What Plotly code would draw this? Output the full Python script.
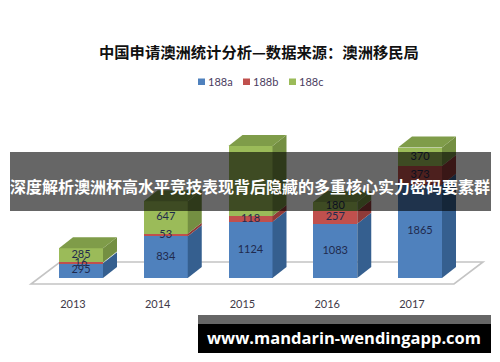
import plotly.graph_objects as go

years = ["2013", "2014", "2015", "2016", "2017"]
series_a = [295, 834, 1124, 1083, 1865]
series_b = [16, 53, 118, 257, 373]
series_c = [285, 647, 1398, 180, 370]
labels_a = ["295", "834", "1124", "1083", "1865"]
labels_b = ["16", "53", "118", "257", "373"]
labels_c = ["285", "647", "", "180", "370"]  # the 2015 label cannot be seen in the reference
names = ["188a", "188b", "188c"]
front = ["#4f81bd", "#c0504d", "#9bbb59"]
side = ["#355f8f", "#8f3a38", "#748f42"]
top = "#7f9c49"
title = "中国申请澳洲统计分析—数据来源：澳洲移民局"
banner = "深度解析澳洲杯高水平竞技表现背后隐藏的多重核心实力密码要素群"
site = "www.mandarin-wendingapp.com"

W, H = 500, 362
PLOT_H = 296
SP = 84.75
X0 = 81
UNIT = 20.0  # data units per px
BASE_PX = 278
DX = 14 / SP
DY = 11 * UNIT
BW = 44 / SP
xs = list(range(len(years)))
all_series = [series_a, series_b, series_c]
all_labels = [labels_a, labels_b, labels_c]


def px(x):
    return x / W


def py(y):
    return (PLOT_H - y) / PLOT_H


def dx(x):
    return (x - X0) / SP


def dy(y):
    return (BASE_PX - y) * UNIT


fig = go.Figure()
for vals, nm, col in zip(all_series, names, front):
    fig.add_trace(go.Bar(
        x=xs, y=vals, name=nm, width=BW, marker=dict(color=col, line=dict(width=0)),
        showlegend=False,
    ))

for i in xs:
    base = 0
    xr = i + BW / 2
    xl = i - BW / 2
    for s, vals in enumerate(all_series):
        t = base + vals[i]
        fig.add_trace(go.Scatter(
            x=[xr, xr + DX, xr + DX, xr, xr], y=[base, base + DY, t + DY, t, base],
            mode="lines", fill="toself", fillcolor=side[s], line=dict(width=0, color=side[s]),
            hoverinfo="skip", showlegend=False))
        base = t
    fig.add_trace(go.Scatter(
        x=[xl, xr, xr + DX, xl + DX, xl], y=[base, base, base + DY, base + DY, base],
        mode="lines", fill="toself", fillcolor=top, line=dict(width=0, color=top),
        hoverinfo="skip", showlegend=False))

# data labels sit above every bar, so thin segments do not hide them
bases = [0] * len(xs)
for vals, labs in zip(all_series, all_labels):
    fig.add_trace(go.Scatter(
        x=xs, y=[b + v / 2 for b, v in zip(bases, vals)], mode="text",
        text=labs, textposition="middle center",
        textfont=dict(family="Lato, sans-serif", size=11, color="#1f2a4d"),
        hoverinfo="skip", showlegend=False))
    bases = [b + v for b, v in zip(bases, vals)]

shapes = []
shapes.append(dict(
    type="path", xref="x", yref="y", layer="below",
    path=f"M {dx(31)} {dy(284)} L {dx(454)} {dy(284)} L {dx(483)} {dy(262)} L {dx(60)} {dy(262)} Z",
    line=dict(color="#c4c4c4", width=1.6), fillcolor="rgba(255,255,255,0)"))

annotations = [dict(
    text=f"<b>{title}</b>", x=px(259), y=py(51), xref="paper", yref="paper", showarrow=False,
    xanchor="center", yanchor="middle",
    font=dict(family="Noto Sans CJK SC", size=15.3, color="#111111"))]

leg_x = [198, 243, 289]
for nm, col, lx in zip(names, front, leg_x):
    shapes.append(dict(type="rect", xref="paper", yref="paper", x0=px(lx), x1=px(lx + 7),
                       y0=py(85), y1=py(78.5), fillcolor=col, line=dict(width=0)))
    annotations.append(dict(
        text=nm, x=px(lx + 10), y=py(82), xref="paper", yref="paper", xanchor="left", yanchor="middle",
        showarrow=False, xshift=-2, font=dict(family="Lato, sans-serif", size=11, color="#4a3c60")))

shapes += [
    dict(type="rect", xref="paper", yref="paper", x0=px(10), x1=px(491), y0=py(211), y1=py(152),
         fillcolor="rgba(0,0,0,0.6)", line=dict(width=0), layer="above"),
    dict(type="rect", xref="paper", yref="paper", x0=px(198), x1=px(491), y0=py(324), y1=py(315),
         fillcolor="rgba(0,0,0,0.6)", line=dict(width=0), layer="above"),
    dict(type="rect", xref="paper", yref="paper", x0=px(198), x1=px(491), y0=py(353), y1=py(324),
         fillcolor="#000000", line=dict(width=0), layer="above"),
]
annotations += [
    dict(text=f"<b>{banner}</b>", x=px(250), y=py(186), xref="paper", yref="paper", showarrow=False,
         xanchor="center", yanchor="middle",
         font=dict(family="Noto Sans CJK SC", size=16, color="#ffffff")),
    dict(text=f"<b>{site}</b>", x=px(343.5), y=py(337), xref="paper", yref="paper", showarrow=False,
         xanchor="center", yanchor="middle",
         font=dict(family="Open Sans", size=16.5, color="#ffffff")),
]

fig.update_layout(
    width=W, height=H, autosize=False, barmode="stack", bargap=0,
    margin=dict(l=0, r=0, t=0, b=H - PLOT_H, pad=0),
    paper_bgcolor="#ffffff", plot_bgcolor="rgba(0,0,0,0)",
    shapes=shapes, annotations=annotations, showlegend=False,
    xaxis=dict(range=[dx(0), dx(W)], tickmode="array", tickvals=[i - 8 / SP for i in xs], ticktext=years,
               showgrid=False, zeroline=False, showline=False, ticks="",
               tickfont=dict(family="Lato, sans-serif", size=11, color="#3f3a48")),
    yaxis=dict(range=[dy(PLOT_H), dy(0)], visible=False, showgrid=False, zeroline=False),
)
fig.write_html("out.html", config=dict(displayModeBar=False),
               post_script="document.body.style.margin='0';document.body.style.overflow='hidden';")
